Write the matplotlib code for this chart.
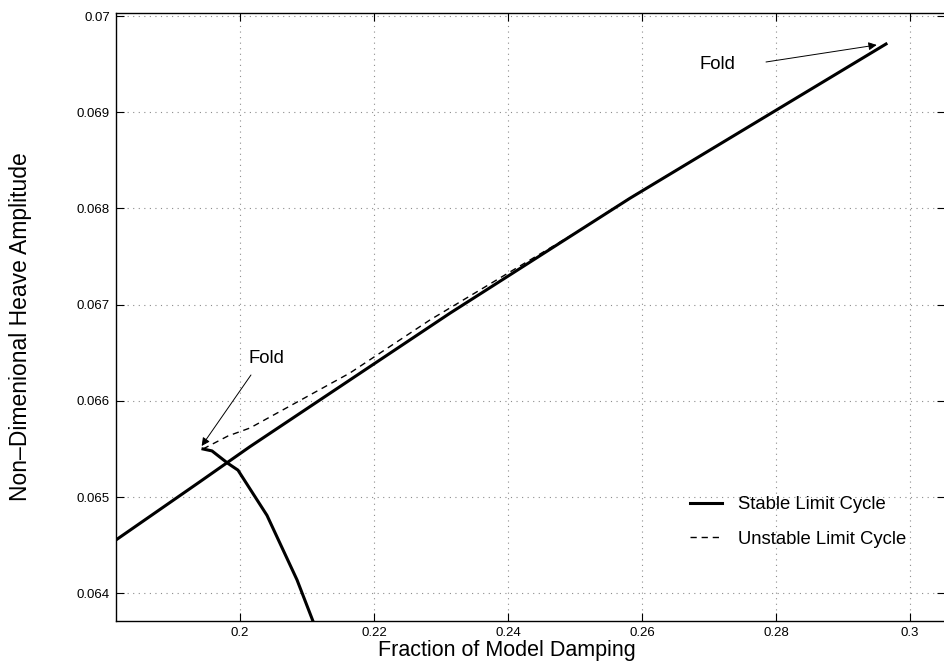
import matplotlib
matplotlib.use("Agg")
import matplotlib.pyplot as plt

plt.rcParams['font.family'] = ['Liberation Sans', 'DejaVu Sans']

# stable branch (main solid line)
stable_x = [0.18134, 0.19403, 0.20149, 0.23134, 0.25821, 0.29642]
stable_y = [0.064547, 0.065160, 0.065524, 0.066911, 0.068106, 0.069709]

# stable branch leaving the lower fold
lower_x = [0.19448, 0.19582, 0.19821, 0.19970, 0.20403, 0.20851, 0.21090]
lower_y = [0.065500, 0.065480, 0.065350, 0.065280, 0.064810, 0.064140, 0.063710]

# unstable branch (dashed) between the two folds
unstable_x = [0.19448, 0.19821, 0.20149, 0.21642, 0.22836, 0.24030, 0.25030, 0.25821, 0.29642]
unstable_y = [0.065500, 0.065635, 0.065718, 0.066290, 0.066841, 0.067340, 0.067756, 0.068109, 0.069709]

xticks = [0.2, 0.22, 0.24, 0.26, 0.28, 0.3]
xtick_labels = ['0.2', '0.22', '0.24', '0.26', '0.28', '0.3']
yticks = [0.064, 0.065, 0.066, 0.067, 0.068, 0.069, 0.07]
ytick_labels = ['0.064', '0.065', '0.066', '0.067', '0.068', '0.069', '0.07']

# fold annotations: (text position, arrow tail, arrow tip)
fold_low = ((0.20388, 0.066436), (0.20164, 0.066269), (0.19428, 0.065531))
fold_high = ((0.27119, 0.069491), (0.27851, 0.069522), (0.29503, 0.069699))

fig = plt.figure(figsize=(9.45, 6.71), dpi=100)
ax = fig.add_axes([0.1224, 0.0745, 0.8776, 0.9061])

ax.plot(stable_x, stable_y, color='k', lw=2.2, label='Stable Limit Cycle')
ax.plot(unstable_x, unstable_y, color='k', lw=1.0, dashes=(4.5, 3.5), label='Unstable Limit Cycle')
ax.plot(lower_x, lower_y, color='k', lw=2.2)

ax.set_xlim(0.181448, 0.305224)
ax.set_ylim(0.063712, 0.070031)
ax.set_xticks(xticks)
ax.set_xticklabels(xtick_labels)
ax.set_yticks(yticks)
ax.set_yticklabels(ytick_labels)
ax.tick_params(direction='in', length=6, width=0.8, labelsize=9.5, pad=4,
               top=True, right=True)
ax.grid(True, dashes=(1, 4), color='0.55', lw=0.8)
ax.spines['right'].set_visible(False)
for s in ['left', 'bottom', 'top']:
    ax.spines[s].set_linewidth(1.0)

ax.set_xlabel('Fraction of Model Damping', fontsize=15.5)
ax.set_ylabel('Non\u2013Dimenional Heave Amplitude', fontsize=16.5)
ax.xaxis.set_label_coords(0.4718, -0.031)
ax.yaxis.set_label_coords(-0.1009, 0.484)

for txt, tail, tip in [fold_low, fold_high]:
    ax.text(txt[0], txt[1], 'Fold', fontsize=13.3, ha='center', va='center')
    ax.annotate('', xy=tip, xytext=tail,
                arrowprops=dict(arrowstyle='-|>', color='k', lw=0.7,
                                mutation_scale=12, shrinkA=0, shrinkB=0))

ax.legend(loc='upper left', bbox_to_anchor=(0.730, 0.2608),
          bbox_transform=fig.transFigure, frameon=False, fontsize=13.3,
          handlelength=1.75, handletextpad=0.86, labelspacing=0.95,
          borderpad=0, borderaxespad=0)

fig.savefig('out.png', dpi=100)
